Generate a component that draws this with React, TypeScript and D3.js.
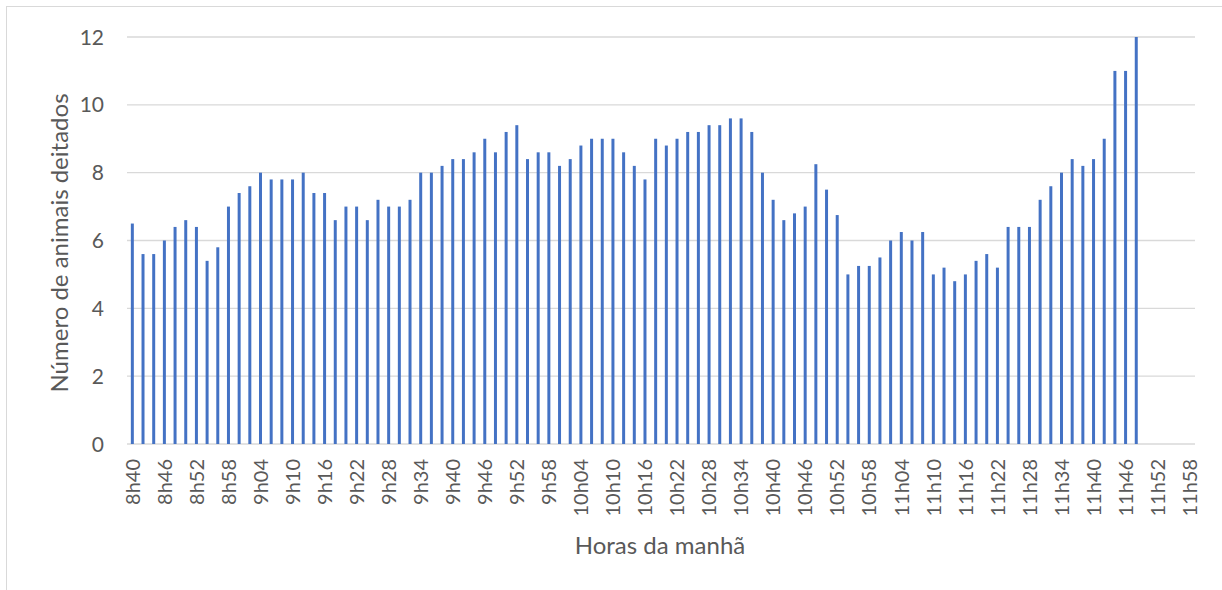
import React from "react";
import * as d3 from "d3";

const values: number[] = [
  6.5, 5.6, 5.6, 6.0, 6.4, 6.6, 6.4, 5.4, 5.8, 7.0,
  7.4, 7.6, 8.0, 7.8, 7.8, 7.8, 8.0, 7.4, 7.4, 6.6,
  7.0, 7.0, 6.6, 7.2, 7.0, 7.0, 7.2, 8.0, 8.0, 8.2,
  8.4, 8.4, 8.6, 9.0, 8.6, 9.2, 9.4, 8.4, 8.6, 8.6,
  8.2, 8.4, 8.8, 9.0, 9.0, 9.0, 8.6, 8.2, 7.8, 9.0,
  8.8, 9.0, 9.2, 9.2, 9.4, 9.4, 9.6, 9.6, 9.2, 8.0,
  7.2, 6.6, 6.8, 7.0, 8.25, 7.5, 6.75, 5.0, 5.25, 5.25,
  5.5, 6.0, 6.25, 6.0, 6.25, 5.0, 5.2, 4.8, 5.0, 5.4,
  5.6, 5.2, 6.4, 6.4, 6.4, 7.2, 7.6, 8.0, 8.4, 8.2,
  8.4, 9.0, 11, 11, 12,
];

// categories: every 2 minutes from 8h40 to 11h58
const startMinute = 8 * 60 + 40;
const endMinute = 11 * 60 + 58;
const categories: string[] = d3.range(startMinute, endMinute + 1, 2).map((m) => {
  const h = Math.floor(m / 60);
  const mm = m % 60;
  return `${h}h${mm < 10 ? "0" + mm : mm}`;
});
const tickLabels: string[] = categories.filter((_, i) => i % 3 === 0);
const yTicks: number[] = [0, 2, 4, 6, 8, 10, 12];

const yTitle = "Número de animais deitados";
const xTitle = "Horas da manhã";

const W = 1222;
const H = 590;
const left = 127;
const right = 1195;
const top = 37;
const bottom = 444;
const FONT = "Lato, 'Open Sans', sans-serif";
const TEXT = "#595959";

export default function App() {
  const x = d3.scaleBand<string>().domain(categories).range([left, right]).paddingInner(0.72).paddingOuter(0.36);
  const y = d3.scaleLinear().domain([0, 12]).range([bottom, top]);
  const bw = x.bandwidth();
  const center = (c: string) => (x(c) as number) + bw / 2;

  return (
    <svg width={W} height={H} style={{ position: "absolute", left: 0, top: 0, background: "#fff" }}>
      <rect x={6.5} y={6.5} width={1240} height={620} fill="#fff" stroke="#d9d9d9" strokeWidth={1} />
      {yTicks.map((t) => (
        <line key={"g" + t} x1={left} x2={right} y1={y(t)} y2={y(t)} stroke="#d9d9d9" strokeWidth={1.3} />
      ))}
      {values.map((v, i) => (
        <rect key={"b" + i} x={x(categories[i])} y={y(v)} width={bw} height={y(0) - y(v)} fill="#4472C4" />
      ))}
      {yTicks.map((t) => (
        <text key={"yt" + t} x={104} y={y(t)} dy="0.36em" textAnchor="end" fontFamily={FONT} fontSize={21} fill={TEXT}>
          {t}
        </text>
      ))}
      {tickLabels.map((c) => (
        <text
          key={"xt" + c}
          transform={`translate(${center(c)},${bottom + 15}) rotate(-90)`}
          textAnchor="end"
          dy="0.36em"
          fontFamily={FONT}
          fontSize={20}
          fill={TEXT}
        >
          {c}
        </text>
      ))}
      <text x={660} y={554} textAnchor="middle" fontFamily={FONT} fontSize={24} fill={TEXT}>
        {xTitle}
      </text>
      <text
        transform={`translate(68,243) rotate(-90)`}
        textAnchor="middle"
        fontFamily={FONT}
        fontSize={24}
        fill={TEXT}
      >
        {yTitle}
      </text>
    </svg>
  );
}
